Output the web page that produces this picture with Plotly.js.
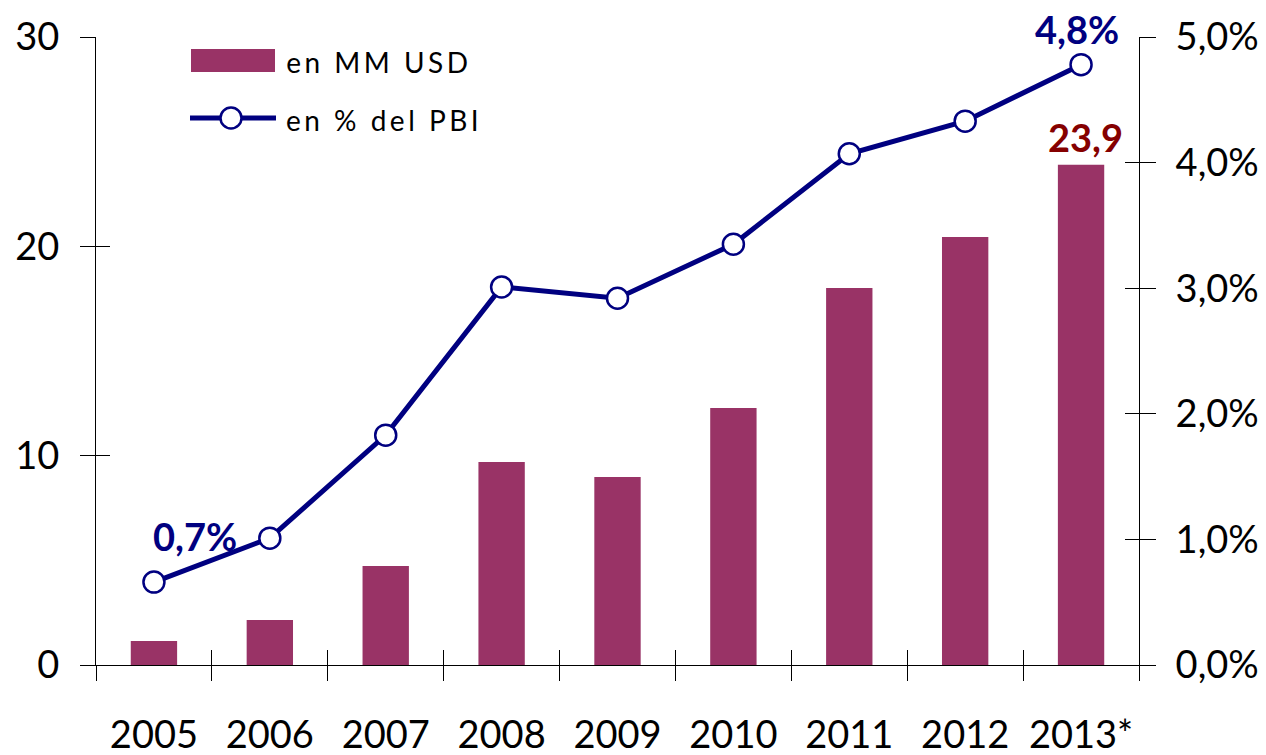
<!DOCTYPE html>
<html>
<head>
<meta charset="utf-8">
<script src="https://cdn.plot.ly/plotly-3.0.1.min.js"></script>
<style>
html,body{margin:0;padding:0;background:#fff;}
#chart{width:1266px;height:755px;}
.annotation[data-index="0"] text, .annotation[data-index="1"] text { letter-spacing: 3.5px; }
</style>
</head>
<body>
<div id="chart"></div>
<script>
// ---- data ----
var years = ['2005','2006','2007','2008','2009','2010','2011','2012','2013*'];
var usdMM = [1.15, 2.15, 4.73, 9.70, 8.98, 12.28, 18.01, 20.45, 23.9];
var pctPBI = [0.66, 1.01, 1.83, 3.01, 2.92, 3.35, 4.07, 4.33, 4.78];
var seriesNames = ['en MM USD', 'en % del PBI'];
var leftTicks = [0, 10, 20, 30];
var rightTicks = [0, 1, 2, 3, 4, 5];

var barColor = '#993366';
var lineColor = '#000080';
var labelRed = '#850000';
var FONT = 'Lato, "Open Sans", sans-serif';

function fmt(v, d){ return v.toFixed(d).replace('.', ','); }

// plot area in pixels (for the hand-drawn legend only)
var W = 1266, H = 755;
var M = {l: 96, r: 127, t: 37, b: 90};
var pw = W - M.l - M.r, ph = H - M.t - M.b;
function px(x){ return (x - M.l) / pw; }
function py(y){ return (H - M.b - y) / ph; }

var traces = [
  {
    type: 'bar', x: years, y: usdMM, name: seriesNames[0],
    marker: {color: barColor}, xaxis: 'x', yaxis: 'y',
    hoverinfo: 'skip', showlegend: false
  },
  {
    type: 'scatter', mode: 'lines+markers', x: years, y: pctPBI, name: seriesNames[1],
    xaxis: 'x', yaxis: 'y2',
    line: {color: lineColor, width: 5},
    marker: {symbol: 'circle', size: 21, color: '#ffffff', line: {color: lineColor, width: 2.5}},
    hoverinfo: 'skip', showlegend: false, cliponaxis: false
  },
  // invisible helper traces so the overlay axes (inner half of crossing ticks) render
  {
    type: 'scatter', mode: 'markers', x: years, y: usdMM, xaxis: 'x2', yaxis: 'y3',
    marker: {opacity: 0}, hoverinfo: 'skip', showlegend: false
  },
  {
    type: 'scatter', mode: 'markers', x: years, y: pctPBI, xaxis: 'x2', yaxis: 'y4',
    marker: {opacity: 0}, hoverinfo: 'skip', showlegend: false
  }
];

var tickFont = {family: FONT, size: 38, color: '#000'};
var rightTickText = rightTicks.map(function(v){ return fmt(v, 1) + '%'; });

var layout = {
  width: W, height: H,
  margin: M,
  paper_bgcolor: '#fff', plot_bgcolor: 'rgba(0,0,0,0)',
  showlegend: false,
  bargap: 0.6,
  xaxis: {
    type: 'category', categoryarray: years, categoryorder: 'array',
    range: [-0.5, years.length - 0.5],
    showline: true, linecolor: '#000', linewidth: 1,
    ticks: 'outside', tickson: 'boundaries', ticklen: 15, tickcolor: '#000', tickwidth: 1,
    showgrid: false, zeroline: false,
    tickfont: tickFont, ticklabelstandoff: 36,
    fixedrange: true
  },
  xaxis2: {
    type: 'category', categoryarray: years, categoryorder: 'array',
    range: [-0.5, years.length - 0.5],
    overlaying: 'x', anchor: 'y3',
    showline: false, ticks: 'inside', tickson: 'boundaries', ticklen: 15,
    tickcolor: '#000', tickwidth: 1, showticklabels: false, showgrid: false, zeroline: false
  },
  yaxis: {
    range: [0, 30], tickvals: leftTicks, ticktext: leftTicks.map(String),
    showline: true, linecolor: '#000', linewidth: 1,
    ticks: 'outside', ticklen: 15, tickcolor: '#000', tickwidth: 1,
    showgrid: false, zeroline: false,
    tickfont: tickFont, ticklabelstandoff: 13
  },
  yaxis2: {
    range: [0, 5], overlaying: 'y', side: 'right', anchor: 'x',
    tickvals: rightTicks, ticktext: rightTickText,
    showline: true, linecolor: '#000', linewidth: 1,
    ticks: 'outside', ticklen: 16, tickcolor: '#000', tickwidth: 1,
    showgrid: false, zeroline: false,
    tickfont: tickFont, ticklabelstandoff: 12
  },
  yaxis3: {
    range: [0, 30], overlaying: 'y', side: 'left', anchor: 'x2',
    tickvals: leftTicks, ticks: 'inside', ticklen: 14, tickcolor: '#000', tickwidth: 1,
    showticklabels: false, showgrid: false, zeroline: false, showline: false
  },
  yaxis4: {
    range: [0, 5], overlaying: 'y', side: 'right', anchor: 'x2',
    tickvals: rightTicks, ticks: 'inside', ticklen: 14, tickcolor: '#000', tickwidth: 1,
    showticklabels: false, showgrid: false, zeroline: false, showline: false
  },
  shapes: [
    // legend swatch: bar
    {type: 'rect', xref: 'paper', yref: 'paper', x0: px(191), x1: px(275), y0: py(72), y1: py(49),
     fillcolor: barColor, line: {width: 0}},
    // legend swatch: line
    {type: 'line', xref: 'paper', yref: 'paper', x0: px(190), x1: px(276), y0: py(118), y1: py(118),
     line: {color: lineColor, width: 5}},
    {type: 'circle', xref: 'paper', yref: 'paper', x0: px(220.5), x1: px(241.5), y0: py(128.5), y1: py(107.5),
     fillcolor: '#ffffff', line: {color: lineColor, width: 2.5}}
  ],
  annotations: [
    {xref: 'paper', yref: 'paper', x: px(284 + 16), y: py(62), xanchor: 'left', yanchor: 'middle',
     text: seriesNames[0], showarrow: false, font: {family: FONT, size: 28, color: '#000'}},
    {xref: 'paper', yref: 'paper', x: px(284 + 21), y: py(120), xanchor: 'left', yanchor: 'middle',
     text: seriesNames[1], showarrow: false, font: {family: FONT, size: 28, color: '#000'}},
    {xref: 'x', yref: 'y2', x: 0, y: pctPBI[0], text: fmt(pctPBI[0], 1) + '%',
     showarrow: false, xanchor: 'center', yanchor: 'middle', xshift: 41, yshift: 46,
     font: {family: FONT, size: 38, color: lineColor, weight: 'bold'}},
    {xref: 'x', yref: 'y2', x: years.length - 1, y: pctPBI[8], text: fmt(pctPBI[8], 1) + '%',
     showarrow: false, xanchor: 'center', yanchor: 'middle', xshift: -4, yshift: 36,
     font: {family: FONT, size: 38, color: lineColor, weight: 'bold'}},
    {xref: 'x', yref: 'y', x: years.length - 1, y: usdMM[8], text: fmt(usdMM[8], 1),
     showarrow: false, xanchor: 'center', yanchor: 'middle', xshift: 4, yshift: 28,
     font: {family: FONT, size: 38, color: labelRed, weight: 'bold'}}
  ]
};

Plotly.newPlot('chart', traces, layout, {staticPlot: true, displayModeBar: false});
</script>
</body>
</html>
